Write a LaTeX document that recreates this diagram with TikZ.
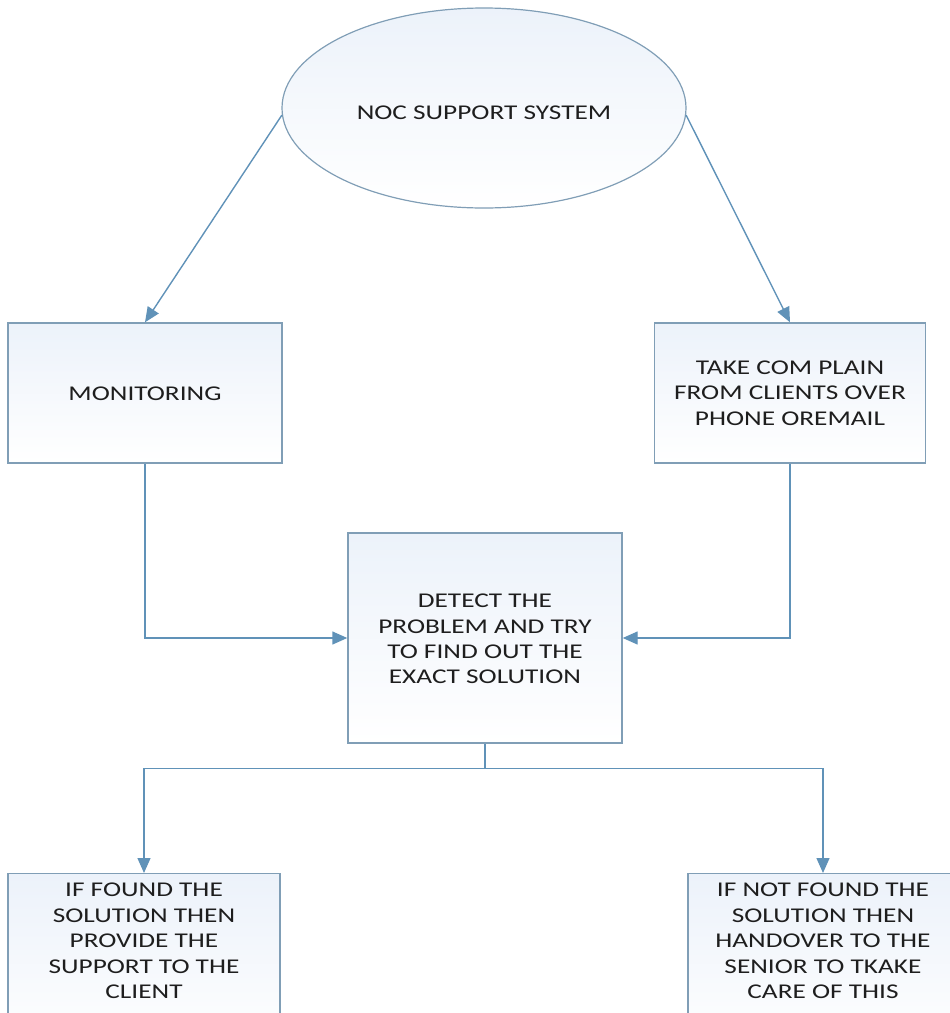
\documentclass[tikz,border=0pt]{standalone}
\usepackage{fontspec}
\setmainfont[FakeStretch=1.3]{Carlito}
\usetikzlibrary{arrows.meta,shapes.geometric,calc}
\definecolor{edgec}{RGB}{128,158,182}
\definecolor{linec}{RGB}{96,146,184}
\definecolor{topc}{RGB}{236,242,250}
\definecolor{txtc}{RGB}{30,30,30}
\tikzset{
  box/.style={draw=edgec, line width=1.4pt, top color=topc, bottom color=white, rectangle, inner sep=0pt},
  oval/.style={draw=edgec, line width=1.2pt, top color=topc, bottom color=white, ellipse, inner sep=0pt, minimum width=404pt, minimum height=200pt},
  txt/.style={text=txtc, align=center, font=\fontsize{21}{25.4}\selectfont},
  conn/.style={draw=linec, line width=1.4pt},
  arr/.style={conn, -{Triangle[length=15pt,width=13pt]}}
}
\begin{document}
\begin{tikzpicture}[x=1pt,y=-1pt]
\useasboundingbox (0,0) rectangle (950,1013);
\node[oval] (noc) at (484,108) {};
\node[txt] (noct) at (484,113) {NOC SUPPORT SYSTEM};

\node[box, minimum width=274pt, minimum height=140pt] (mon) at (145,393) {};
\node[txt] (mont) at (145,394) {MONITORING};

\node[box, minimum width=271pt, minimum height=140pt] (take) at (790,393) {};
\node[txt] (taket) at (790,393) {TAKE COM PLAIN\\FROM CLIENTS OVER\\PHONE OREMAIL};

\node[box, minimum width=274pt, minimum height=210pt] (det) at (485,638) {};
\node[txt] (dett) at (485,639) {DETECT THE\\PROBLEM AND TRY\\TO FIND OUT THE\\EXACT SOLUTION};

\node[box, anchor=north, minimum width=272pt, minimum height=180pt] (found) at (144,873) {};
\node[txt] (foundt) at (144,941) {IF FOUND THE\\SOLUTION THEN\\PROVIDE THE\\SUPPORT TO THE\\CLIENT};

\node[box, anchor=north, minimum width=270pt, minimum height=180pt] (nfound) at (823,873) {};
\node[txt] (nfoundt) at (823,941) {IF NOT FOUND THE\\SOLUTION THEN\\HANDOVER TO THE\\SENIOR TO TKAKE\\CARE OF THIS};

\draw[arr] (noc.182) -- (mon.north);
\draw[arr] (noc.-2) -- (take.north);
\draw[arr] (mon.south) |- (det.west);
\draw[arr] (take.south) |- (det.east);
\coordinate (j) at ($(det.south)+(0,25)$);
\draw[conn] (det.south) -- (j);
\draw[arr] (j) -| (found.north);
\draw[arr] (j) -| (nfound.north);
\end{tikzpicture}
\end{document}
